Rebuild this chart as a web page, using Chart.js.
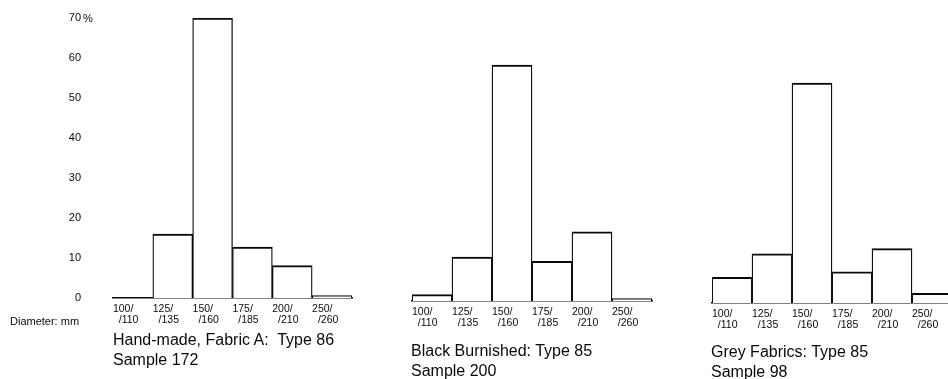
<!DOCTYPE html>
<html>
<head>
<meta charset="utf-8">
<script src="https://cdn.jsdelivr.net/npm/chart.js@4/dist/chart.umd.min.js"></script>
<style>
html, body { margin: 0; padding: 0; background: #fff; overflow: hidden; width: 948px; height: 379px; }
body { position: relative; font-family: "Liberation Sans", Arial, sans-serif; color: #0a0a0a; }
canvas { position: absolute; top: 0; }
.texto { position: absolute; white-space: pre; }
.pie { font-size: 16px; line-height: 20px; }
</style>
</head>
<body>
<canvas id="graficaA" width="360" height="340" style="left:0"></canvas>
<canvas id="graficaB" width="300" height="340" style="left:360px"></canvas>
<canvas id="graficaC" width="280" height="340" style="left:680px"></canvas>

<div class="texto" style="left:83px;top:12px;font-size:11px;line-height:13px">%</div>
<div class="texto" style="left:10px;top:315px;font-size:11px;line-height:13px">Diameter: mm</div>
<div class="texto pie" style="left:113px;top:330px">Hand-made, Fabric A:  Type 86<br>Sample 172</div>
<div class="texto pie" style="left:411px;top:341px">Black Burnished: Type 85<br>Sample 200</div>
<div class="texto pie" style="left:711px;top:342px">Grey Fabrics: Type 85<br>Sample 98</div>

<script>
// Clases de diametro (mm), arriba y abajo de la barra oblicua
const diametrosArriba = ["100/", "125/", "150/", "175/", "200/", "250/"];
const diametrosAbajo = ["/110", "/135", "/160", "/185", "/210", "/260"];
// Marcas del eje Y (%)
const marcasY = [0, 10, 20, 30, 40, 50, 60, 70];
// Porcentajes por clase
const fabricaA = [0, 16, 70, 12.7, 8.1, 0.6];
const negroBrunido = [1.6, 11, 59, 9.9, 17.3, 0.6];
const gris = [6.4, 12.3, 55, 7.8, 13.6, 2.4];

const etiquetas = diametrosArriba.map((a, i) => [a, "\u2007" + diametrosAbajo[i]]);

Chart.defaults.font.family = '"Liberation Sans", Arial, sans-serif';
Chart.defaults.color = "#0a0a0a";

// caja: margenes para colocar el area de la grafica
function histograma(id, datos, caja, conEje) {
  return new Chart(document.getElementById(id), {
    type: "bar",
    data: {
      labels: etiquetas,
      datasets: [{
        data: datos,
        backgroundColor: "#fff",
        borderColor: "#0a0a0a",
        borderWidth: { top: 2, left: 1.3, right: 1.3, bottom: 0 },
        categoryPercentage: 1,
        barPercentage: 1
      }]
    },
    options: {
      responsive: false,
      animation: false,
      layout: { padding: { top: caja.arriba, left: caja.izq, right: caja.der, bottom: 0 } },
      plugins: { legend: { display: false }, tooltip: { enabled: false } },
      scales: {
        x: {
          grid: { display: false, drawTicks: false },
          border: { display: true, color: "#0a0a0a", width: 1.5 },
          ticks: {
            align: "start", labelOffset: -20, padding: 6,
            maxRotation: 0, autoSkip: false,
            font: { size: 10.5, lineHeight: 1.05 }
          },
          afterFit: s => { s.height = caja.ejeX; s.paddingLeft = 0; s.paddingRight = 0; }
        },
        y: {
          display: conEje,
          min: 0, max: 70,
          grid: { display: false, drawTicks: false },
          border: { display: false },
          ticks: {
            stepSize: 10, padding: 32, font: { size: 11 },
            callback: (v) => marcasY.includes(v) ? String(v) : ""
          },
          afterFit: s => { s.width = caja.ejeY; s.paddingTop = 0; s.paddingBottom = 0; }
        }
      }
    }
  });
}

histograma("graficaA", fabricaA, { arriba: 18, izq: 0, der: 8, ejeX: 42, ejeY: 113 }, true);
histograma("graficaB", negroBrunido, { arriba: 21, izq: 52, der: 8, ejeX: 39, ejeY: 0 }, false);
histograma("graficaC", gris, { arriba: 23, izq: 32, der: 8, ejeX: 37, ejeY: 0 }, false);
</script>
</body>
</html>
